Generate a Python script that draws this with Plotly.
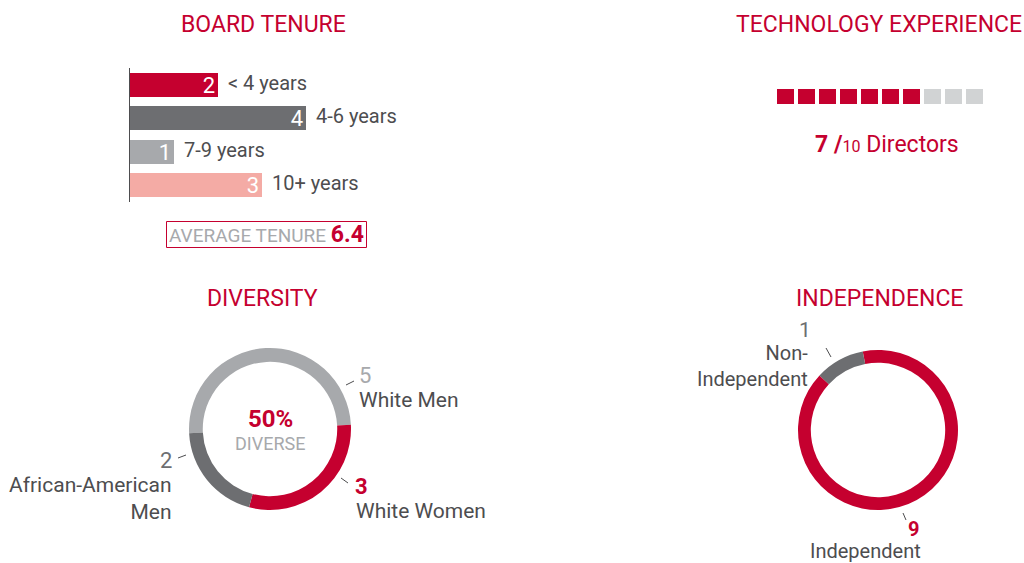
import plotly.graph_objects as go

# ---------------- data ----------------
tenure_cats = ["< 4 years", "4-6 years", "7-9 years", "10+ years"]
tenure_vals = [2, 4, 1, 3]
average_tenure = 6.4

tech_total = 10
tech_yes = 7
tech_slots = list(range(1, tech_total + 1))

diversity_labels = ["White Men", "White Women", "African-American Men"]
diversity_vals = [5, 3, 2]
diverse_pct = 50

indep_labels = ["Independent", "Non-Independent"]
indep_vals = [9, 1]

# ---------------- style ----------------
RED = "#C5002F"
DGRAY = "#6D6E71"
LGRAY = "#A7A9AC"
PINK = "#F4ABA5"
EMPTY = "#D1D3D4"
TXT = "#4D4D4F"
FONT = "Roboto"
W, H = 1024, 563


def px(x):
    return x / W


def py(y):
    return 1 - y / H


tenure_colors = [RED, DGRAY, LGRAY, PINK]

fig = go.Figure()

# Board tenure bars
fig.add_trace(go.Bar(
    x=tenure_vals, y=tenure_cats, orientation="h",
    marker=dict(color=tenure_colors, line=dict(width=0)),
    width=0.72,
    text=[str(v) for v in tenure_vals], textposition="inside",
    insidetextanchor="end", textangle=0, constraintext="none",
    textfont=dict(color="white", size=22, family=FONT),
    xaxis="x", yaxis="y", hoverinfo="skip", showlegend=False,
))
fig.add_trace(go.Scatter(
    x=tenure_vals, y=tenure_cats, mode="text",
    text=["  " + c for c in tenure_cats], textposition="middle right",
    textfont=dict(color=TXT, size=20, family=FONT),
    cliponaxis=False, xaxis="x", yaxis="y", hoverinfo="skip", showlegend=False,
))

# Technology experience squares
fig.add_trace(go.Bar(
    x=tech_slots, y=[1] * tech_total,
    marker=dict(color=[RED if s <= tech_yes else EMPTY for s in tech_slots], line=dict(width=0)),
    width=0.84, xaxis="x2", yaxis="y2", hoverinfo="skip", showlegend=False,
))

# Diversity donut
fig.add_trace(go.Pie(
    labels=diversity_labels, values=diversity_vals, hole=0.83, sort=False,
    direction="clockwise", rotation=267,
    marker=dict(colors=[LGRAY, RED, DGRAY], line=dict(width=0)),
    textinfo="none", hoverinfo="skip", showlegend=False,
    domain=dict(x=[px(189), px(351)], y=[py(510), py(348)]),
))

# Independence donut
fig.add_trace(go.Pie(
    labels=indep_labels, values=indep_vals, hole=0.84, sort=False,
    direction="clockwise", rotation=-11,
    marker=dict(colors=[RED, DGRAY], line=dict(width=0)),
    textinfo="none", hoverinfo="skip", showlegend=False,
    domain=dict(x=[px(797), px(959)], y=[py(510), py(350)]),
))

ann = []


def A(x, y, text, size=18, color=TXT, xanchor="center", align="center", **kw):
    ann.append(dict(x=px(x), y=py(y), xref="paper", yref="paper", text=text,
                    showarrow=False, xanchor=xanchor, yanchor="middle", align=align,
                    font=dict(size=size, color=color, family=FONT), **kw))


# Titles
A(263, 24, "BOARD TENURE", size=23, color=RED)
A(879, 24, "TECHNOLOGY EXPERIENCE", size=23, color=RED)
A(262, 298, "DIVERSITY", size=23, color=RED)
A(879, 298, "INDEPENDENCE", size=23, color=RED)

# Average tenure text (box drawn as a shape below)
A(266.5, 234.5,
  f"AVERAGE TENURE <b><span style='color:{RED};font-size:23px'>{average_tenure}</span></b>",
  size=19, color=LGRAY)

# Tech text
A(887, 145,
  f"<b>{tech_yes} /</b><span style='font-size:16px'>{tech_total}</span> Directors",
  size=23, color=RED)

# Diversity labels
A(270, 419, f"<b>{diverse_pct}%</b>", size=24, color=RED)
A(270, 443, "DIVERSE", size=18, color=LGRAY)
A(357, 375, str(diversity_vals[0]), size=22, color=LGRAY, xanchor="left")
A(357, 400, diversity_labels[0], size=21, xanchor="left")
A(353, 486, f"<b>{diversity_vals[1]}</b>", size=22, color=RED, xanchor="left")
A(354, 511, diversity_labels[1], size=21, xanchor="left")
A(174, 460, str(diversity_vals[2]), size=22, color=DGRAY, xanchor="right")
A(174, 498, "African-American<br>Men", size=21, xanchor="right", align="right")

# Independence labels
A(805, 330, str(indep_vals[1]), size=21, color=DGRAY)
A(810, 366, "Non-<br>Independent", size=20, xanchor="right", align="right")
A(913, 529, f"<b>{indep_vals[0]}</b>", size=20, color=RED)
A(865, 551, indep_labels[0], size=20)

leaders = [((346, 385), (354, 381)), ((341, 478), (348, 483)), ((178, 458), (186, 455)),
           ((826, 348), (831, 357)), ((903, 513), (906, 520))]
shapes = [dict(type="line", xref="paper", yref="paper", x0=px(a[0]), y0=py(a[1]),
               x1=px(b[0]), y1=py(b[1]), line=dict(color=TXT, width=1)) for a, b in leaders]
shapes.append(dict(type="rect", xref="paper", yref="paper",
                   x0=px(166.5), x1=px(366.5), y0=py(247.5), y1=py(221.5),
                   line=dict(color=RED, width=1), fillcolor="rgba(0,0,0,0)"))

fig.update_layout(
    width=W, height=H, margin=dict(l=0, r=0, t=0, b=0),
    paper_bgcolor="white", plot_bgcolor="rgba(0,0,0,0)",
    font=dict(family=FONT),
    bargap=0,
    xaxis=dict(domain=[px(130), px(570)], range=[0, 10], visible=False, fixedrange=True),
    yaxis=dict(domain=[py(202), py(68)], autorange="reversed", showline=True,
               linecolor=TXT, linewidth=1, showticklabels=False, showgrid=False,
               zeroline=False, ticks="", fixedrange=True, anchor="x"),
    xaxis2=dict(domain=[px(775), px(985)], range=[0.5, 10.5], visible=False, fixedrange=True),
    yaxis2=dict(domain=[py(104), py(89)], range=[0, 1], visible=False, fixedrange=True,
                anchor="x2"),
    annotations=ann, shapes=shapes,
)

fig.write_html("out.html", config={"displayModeBar": False},
               post_script="document.body.style.margin='0';")
